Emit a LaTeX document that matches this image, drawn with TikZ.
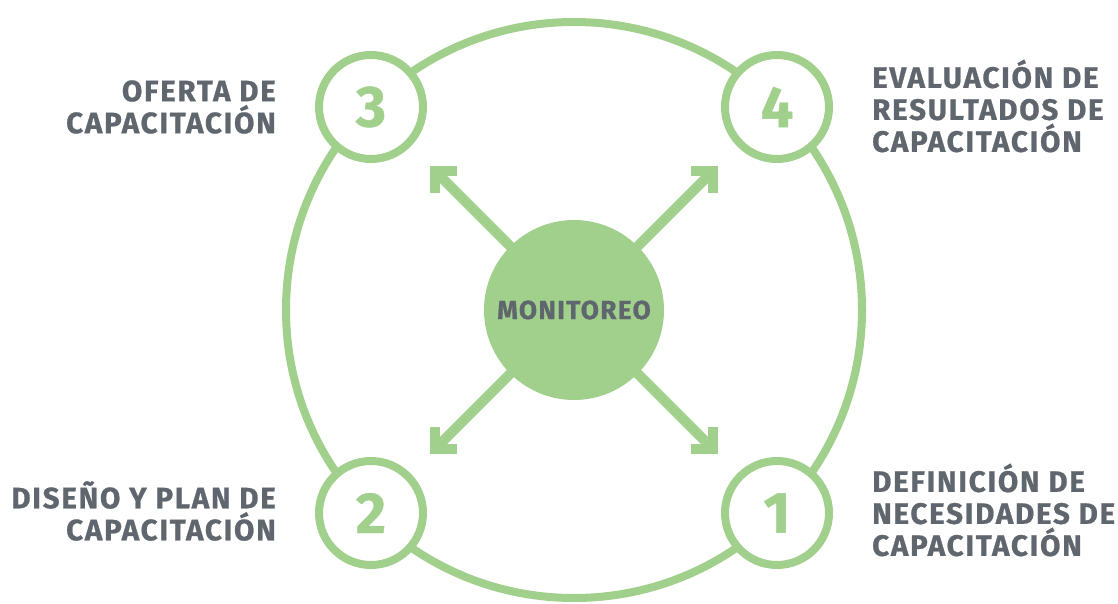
\documentclass[tikz,border=0pt]{standalone}
\usepackage{fontspec}
\setmainfont{Fira Sans}
\usetikzlibrary{arrows.meta,calc,backgrounds}

\definecolor{hoja}{HTML}{A0D08B}
\definecolor{pizarra}{HTML}{5F666D}

\tikzset{
  etapa/.style={circle, draw=hoja, line width=8pt, fill=white, minimum size=104pt, inner sep=0pt,
    text=hoja, font=\bfseries\addfontfeatures{FakeBold=0.8}\fontsize{58}{58}\selectfont},
  rotulo/.style={text=pizarra, inner sep=0pt,
    font=\bfseries\addfontfeatures{LetterSpace=6,FakeBold=0.8}\fontsize{29.5}{32}\selectfont},
  flecha/.style={hoja, line width=10pt, -{Straight Barb[angle=90:22pt]}}
}

\begin{document}
\begin{tikzpicture}[x=1pt,y=-1pt]
\useasboundingbox (0,0) rectangle (1118,604);

\node[circle, fill=hoja, minimum size=180pt, inner sep=0pt, text=pizarra,
  font=\bfseries\addfontfeatures{LetterSpace=5,FakeBold=0.8}\fontsize{26.3}{26.3}\selectfont] (m) at (574,310) {MONITOREO};

\node[etapa] (c3) at (371,107) {3};
\node[etapa] (c4) at (777,107) {4};
\node[etapa] (c2) at (371,513) {2};
\node[etapa] (c1) at (777,513) {1};

\coordinate (t3) at ($(m)+(-144,-144)$);
\coordinate (t4) at ($(m)+(144,-144)$);
\coordinate (t2) at ($(m)+(-144,144)$);
\coordinate (t1) at ($(m)+(144,144)$);

\begin{scope}[on background layer]
\draw[hoja, line width=8pt] (m) circle (288pt);
\foreach \k in {1,...,4}
  \draw[flecha] (m.center) -- (t\k);
\end{scope}

% etiquetas
\node[rotulo, anchor=east, align=right] (l3) at (276,107) {OFERTA DE\\CAPACITACIÓN};
\node[rotulo, anchor=west, align=left] (l4) at (872,106) {EVALUACIÓN DE\\RESULTADOS DE\\CAPACITACIÓN};
\node[rotulo, anchor=east, align=right] (l2) at (276,511) {DISEÑO Y PLAN DE\\CAPACITACIÓN};
\node[rotulo, anchor=west, align=left] (l1) at (872,510) {DEFINICIÓN DE\\NECESIDADES DE\\CAPACITACIÓN};

\end{tikzpicture}
\end{document}
